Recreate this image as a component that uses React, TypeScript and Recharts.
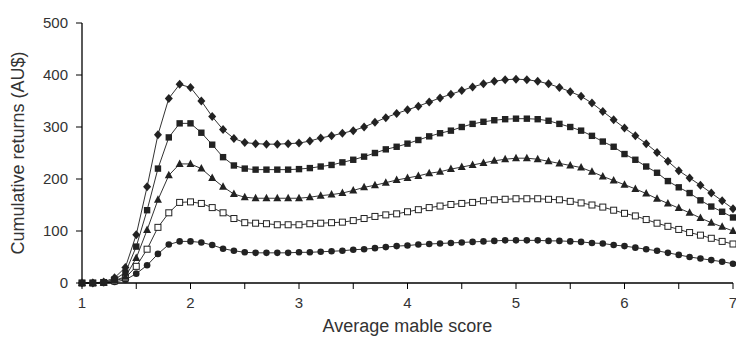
import { Label, Line, LineChart, XAxis, YAxis } from "recharts";

// average mable score, 0.1 steps
const SCORES = [
  1.0, 1.1, 1.2, 1.3, 1.4, 1.5, 1.6, 1.7, 1.8, 1.9,
  2.0, 2.1, 2.2, 2.3, 2.4, 2.5, 2.6, 2.7, 2.8, 2.9,
  3.0, 3.1, 3.2, 3.3, 3.4, 3.5, 3.6, 3.7, 3.8, 3.9,
  4.0, 4.1, 4.2, 4.3, 4.4, 4.5, 4.6, 4.7, 4.8, 4.9,
  5.0, 5.1, 5.2, 5.3, 5.4, 5.5, 5.6, 5.7, 5.8, 5.9,
  6.0, 6.1, 6.2, 6.3, 6.4, 6.5, 6.6, 6.7, 6.8, 6.9,
  7.0,
];

// cumulative returns (AU$) per curve, top to bottom
const DIAMONDS = [
  0, 0, 2, 10, 30, 93, 185, 285, 355, 382,
  376, 350, 320, 295, 278, 270, 268, 267, 267, 268,
  269, 273, 279, 283, 288, 293, 300, 309, 318, 326,
  333, 340, 348, 356, 363, 370, 377, 383, 388, 391,
  392, 391, 388, 383, 376, 368, 359, 346, 330, 314,
  298, 283, 268, 251, 234, 216, 202, 188, 173, 158,
  143,
];
const SQUARES = [
  0, 0, 1, 7, 20, 70, 140, 220, 280, 307,
  307, 289, 266, 242, 226, 220, 218, 218, 218, 218,
  219, 221, 224, 227, 232, 237, 243, 250, 257, 262,
  268, 275, 282, 288, 293, 300, 306, 310, 313, 315,
  316, 316, 315, 312, 306, 300, 293, 283, 272, 262,
  248, 237, 224, 212, 196, 184, 173, 159, 147, 137,
  126,
];
const TRIANGLES = [
  0, 0, 1, 5, 12, 48, 102, 160, 207, 229,
  229, 220, 202, 185, 171, 165, 163, 163, 163, 163,
  163, 165, 168, 170, 173, 178, 184, 188, 193, 198,
  202, 206, 211, 214, 219, 223, 227, 231, 235, 238,
  240, 240, 238, 234, 230, 226, 222, 214, 205, 197,
  189, 181, 172, 162, 153, 144, 135, 125, 116, 108,
  100,
];
const OPEN_SQUARES = [
  0, 0, 1, 4, 10, 32, 65, 107, 135, 155,
  156, 153, 145, 135, 124, 116, 115, 114, 112, 112,
  112, 114, 115, 116, 117, 120, 124, 128, 131, 133,
  137, 141, 145, 148, 151, 153, 155, 158, 160, 161,
  162, 162, 162, 161, 160, 157, 154, 150, 146, 140,
  134, 129, 122, 115, 109, 103, 97, 92, 86, 80,
  75,
];
const CIRCLES = [
  0, 0, 0, 2, 6, 18, 34, 56, 74, 80,
  80, 78, 73, 66, 62, 59, 58, 58, 58, 58,
  59, 59, 60, 61, 62, 64, 65, 67, 69, 71,
  72, 74, 75, 76, 77, 78, 79, 80, 81, 82,
  82, 82, 82, 81, 81, 80, 79, 77, 76, 73,
  71, 68, 65, 62, 58, 54, 50, 47, 44, 41,
  37,
];

const X_TICKS = [1, 1.5, 2, 2.5, 3, 3.5, 4, 4.5, 5, 5.5, 6, 6.5, 7];
const Y_TICKS = [0, 100, 200, 300, 400, 500];

const INK = "#222";
const TEXT = "#333";
const FONT = "'Liberation Sans', Arial, sans-serif";

const data = SCORES.map((x, i) => ({
  x,
  d: DIAMONDS[i],
  s: SQUARES[i],
  t: TRIANGLES[i],
  o: OPEN_SQUARES[i],
  c: CIRCLES[i],
}));

type DotProps = { cx?: number; cy?: number; index?: number };

const diamond = ({ cx = 0, cy = 0, index }: DotProps) => (
  <path
    key={`d${index}`}
    d={`M${cx},${cy - 4.5}L${cx + 4},${cy}L${cx},${cy + 4.5}L${cx - 4},${cy}Z`}
    fill={INK}
  />
);
const square = ({ cx = 0, cy = 0, index }: DotProps) => (
  <rect key={`s${index}`} x={cx - 3.2} y={cy - 3.2} width={6.4} height={6.4} fill={INK} />
);
const triangle = ({ cx = 0, cy = 0, index }: DotProps) => (
  <path
    key={`t${index}`}
    d={`M${cx},${cy - 4.5}L${cx + 4},${cy + 3}L${cx - 4},${cy + 3}Z`}
    fill={INK}
  />
);
const openSquare = ({ cx = 0, cy = 0, index }: DotProps) => (
  <rect
    key={`o${index}`}
    x={cx - 3}
    y={cy - 3}
    width={6}
    height={6}
    fill="#fff"
    stroke={INK}
    strokeWidth={1}
  />
);
const circle = ({ cx = 0, cy = 0, index }: DotProps) => (
  <circle key={`c${index}`} cx={cx} cy={cy} r={3.3} fill={INK} />
);

const SERIES = [
  { key: "c", dot: circle },
  { key: "o", dot: openSquare },
  { key: "t", dot: triangle },
  { key: "s", dot: square },
  { key: "d", dot: diamond },
];

export default function App() {
  const tick = { fontSize: 15, fill: TEXT, fontFamily: FONT };
  return (
    <div style={{ position: "absolute", left: 0, top: 0, background: "#fff" }}>
      <LineChart
        width={736}
        height={338}
        data={data}
        margin={{ top: 23, right: 3, bottom: 0, left: 0 }}
      >
        <XAxis
          type="number"
          dataKey="x"
          domain={[1, 7]}
          ticks={X_TICKS}
          tickFormatter={(v: number) => (Number.isInteger(v) ? String(v) : "")}
          interval={0}
          height={55}
          tick={tick}
          tickSize={6}
          tickMargin={8}
          stroke="#000"
          axisLine={{ stroke: "#000", strokeWidth: 1.3 }}
          tickLine={{ stroke: "#000" }}
        >
          <Label
            value="Average mable score"
            position="insideBottom"
            offset={6}
            style={{ fontSize: 18, fill: TEXT, fontFamily: FONT }}
          />
        </XAxis>
        <YAxis
          domain={[0, 500]}
          ticks={Y_TICKS}
          width={82}
          tick={tick}
          tickSize={6}
          tickMargin={8}
          interval={0}
          stroke="#000"
          axisLine={{ stroke: "#000", strokeWidth: 1.3 }}
          tickLine={{ stroke: "#000" }}
        >
          <Label
            value="Cumulative returns (AU$)"
            angle={-90}
            position="insideLeft"
            offset={18}
            style={{ fontSize: 18, fill: TEXT, fontFamily: FONT, textAnchor: "middle" }}
          />
        </YAxis>
        {SERIES.map((s) => (
          <Line
            key={s.key}
            type="linear"
            dataKey={s.key}
            stroke="#333"
            strokeWidth={1}
            dot={s.dot}
            activeDot={false}
            isAnimationActive={false}
          />
        ))}
      </LineChart>
    </div>
  );
}
